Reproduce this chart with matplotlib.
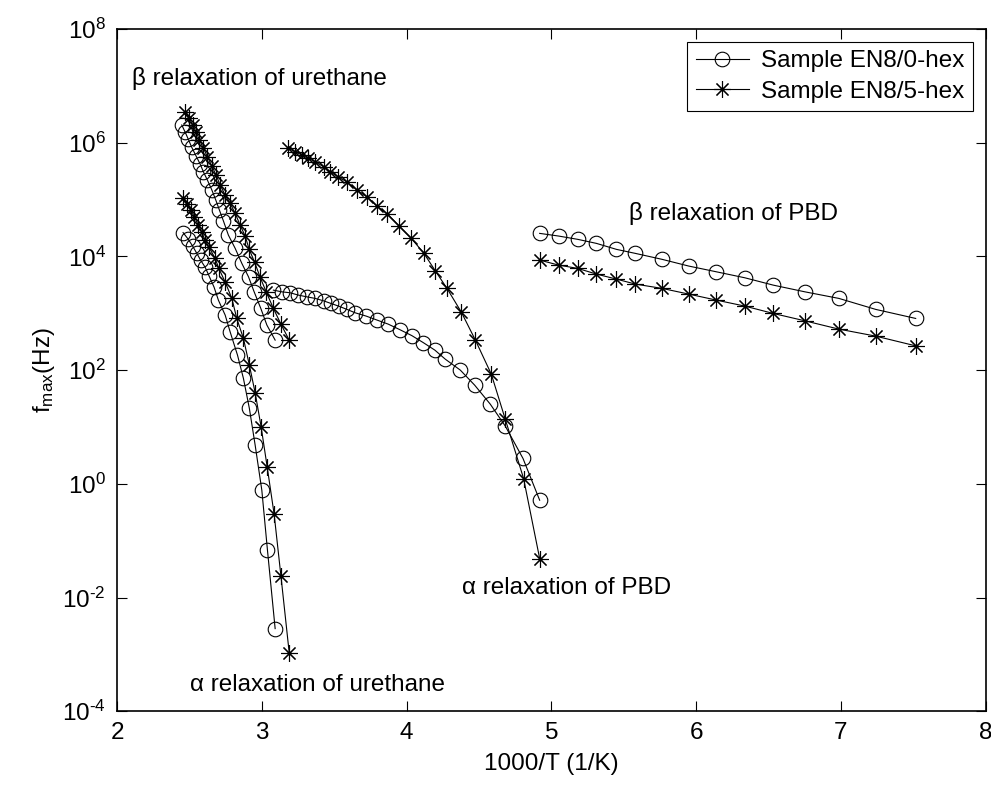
import numpy as np
import matplotlib
matplotlib.use("Agg")
import matplotlib.pyplot as plt

plt.rcParams['font.family'] = ['Liberation Sans', 'DejaVu Sans']
plt.rcParams['mathtext.fontset'] = 'custom'
plt.rcParams['mathtext.rm'] = 'Liberation Sans'
plt.rcParams['mathtext.it'] = 'Liberation Sans:italic'
plt.rcParams['mathtext.default'] = 'regular'

# ---- data: x = 1000/T (1/K), values are log10(f_max / Hz)

# Sample EN8/0-hex (circles)
c_bu_x = [2.447, 2.470, 2.493, 2.516, 2.546, 2.574, 2.597, 2.624, 2.655, 2.682,
          2.707, 2.735, 2.769, 2.816, 2.862, 2.908, 2.947, 2.993, 3.035, 3.092]
c_bu_logf = [6.311, 6.188, 6.056, 5.918, 5.765, 5.625, 5.484, 5.343, 5.167, 4.991,
             4.815, 4.622, 4.375, 4.141, 3.877, 3.641, 3.377, 3.085, 2.792, 2.528]

c_au_x = [2.456, 2.491, 2.522, 2.550, 2.577, 2.608, 2.636, 2.670, 2.700, 2.747,
          2.781, 2.832, 2.873, 2.914, 2.954, 3.000, 3.039, 3.092]
c_au_logf = [4.419, 4.305, 4.182, 4.058, 3.935, 3.812, 3.654, 3.460, 3.231, 2.967,
             2.674, 2.264, 1.854, 1.326, 0.680, -0.112, -1.168, -2.546]

c_ap_x = [3.080, 3.138, 3.196, 3.253, 3.311, 3.369, 3.426, 3.477, 3.530, 3.588,
          3.645, 3.721, 3.797, 3.873, 3.953, 4.036, 4.115, 4.195, 4.267, 4.371,
          4.470, 4.578, 4.682, 4.804, 4.919]
c_ap_logf = [3.407, 3.377, 3.360, 3.319, 3.289, 3.261, 3.219, 3.173, 3.126, 3.068,
             3.008, 2.950, 2.879, 2.809, 2.712, 2.607, 2.484, 2.352, 2.193, 2.000,
             1.736, 1.401, 1.014, 0.446, -0.288]

c_bp_x = [4.919, 5.050, 5.182, 5.311, 5.449, 5.580, 5.765, 5.949, 6.140, 6.336,
          6.532, 6.751, 6.986, 7.240, 7.516]
c_bp_logf = [4.405, 4.358, 4.300, 4.229, 4.124, 4.053, 3.948, 3.830, 3.729, 3.624,
             3.495, 3.377, 3.261, 3.068, 2.909]

# Sample EN8/5-hex (asterisks)
s_bu_x = [2.470, 2.500, 2.523, 2.546, 2.569, 2.597, 2.624, 2.655, 2.684, 2.712,
          2.747, 2.781, 2.816, 2.850, 2.885, 2.912, 2.950, 2.988, 3.030, 3.080,
          3.132, 3.189]
s_bu_logf = [6.545, 6.429, 6.311, 6.193, 6.047, 5.901, 5.753, 5.589, 5.431, 5.255,
             5.079, 4.933, 4.757, 4.551, 4.358, 4.129, 3.900, 3.636, 3.377, 3.085,
             2.809, 2.528]

s_au_x = [2.458, 2.486, 2.512, 2.534, 2.562, 2.585, 2.608, 2.634, 2.677, 2.702,
          2.747, 2.793, 2.827, 2.873, 2.914, 2.954, 2.995, 3.037, 3.085, 3.132,
          3.189]
s_au_logf = [5.021, 4.921, 4.815, 4.692, 4.551, 4.428, 4.287, 4.164, 3.970, 3.794,
             3.548, 3.261, 2.909, 2.557, 2.088, 1.600, 1.005, 0.298, -0.534, -1.620,
             -2.968]

s_ap_x = [3.184, 3.230, 3.277, 3.322, 3.369, 3.426, 3.472, 3.524, 3.588, 3.657,
          3.726, 3.795, 3.868, 3.949, 4.032, 4.117, 4.198, 4.279, 4.378, 4.475,
          4.585, 4.682, 4.808, 4.919]
s_ap_logf = [5.901, 5.841, 5.783, 5.725, 5.665, 5.577, 5.489, 5.405, 5.308, 5.167,
             5.049, 4.885, 4.745, 4.534, 4.317, 4.064, 3.747, 3.437, 3.020, 2.528,
             1.929, 1.132, 0.094, -1.314]

s_bp_x = c_bp_x
s_bp_logf = [3.935, 3.847, 3.789, 3.689, 3.601, 3.513, 3.437, 3.337, 3.231, 3.126,
             2.997, 2.867, 2.721, 2.598, 2.427]

labels = ["Sample EN8/0-hex", "Sample EN8/5-hex"]

notes = [("\u03b2 relaxation of urethane", 2.104, 7.014),
         ("\u03b1 relaxation of urethane", 2.505, -3.637),
         ("\u03b1 relaxation of PBD", 4.384, -1.930),
         ("\u03b2 relaxation of PBD", 5.534, 4.637)]

y_exps = [-4, -2, 0, 2, 4, 6, 8]

FS = 17.5

fig = plt.figure(figsize=(9.91, 7.87), dpi=100)
ax = fig.add_axes([0.1181, 0.0962, 0.8766, 0.8670])

circ = dict(color="black", lw=0.8, marker="o", ms=10.5, mfc="none", mec="black", mew=0.8)
star = dict(color="black", lw=0.8, marker=(8, 2, 0), ms=12, mec="black", mew=0.8)

first = True
for xs, ls in [(c_bu_x, c_bu_logf), (c_au_x, c_au_logf), (c_ap_x, c_ap_logf), (c_bp_x, c_bp_logf)]:
	ax.plot(xs, 10 ** np.array(ls), label=labels[0] if first else None, **circ)
	first = False
first = True
for xs, ls in [(s_bu_x, s_bu_logf), (s_au_x, s_au_logf), (s_ap_x, s_ap_logf), (s_bp_x, s_bp_logf)]:
	ax.plot(xs, 10 ** np.array(ls), label=labels[1] if first else None, **star)
	first = False

ax.set_yscale("log")
ax.set_xlim(2, 8)
ax.set_ylim(1e-4, 1e8)
ax.set_xticks([2, 3, 4, 5, 6, 7, 8])
ax.set_yticks([10.0 ** e for e in y_exps])
# matlab style exponent with a plain hyphen
ax.set_yticklabels([r"$10^{%s}$" % (("\u2010" + str(-e)) if e < 0 else str(e)) for e in y_exps])
ax.yaxis.set_minor_locator(matplotlib.ticker.NullLocator())
ax.tick_params(direction="in", length=7, width=0.8, top=True, right=True, labelsize=FS, pad=8)
for s in ax.spines.values():
	s.set_linewidth(1.2)

ax.set_xlabel("1000/T (1/K)", fontsize=FS, labelpad=6)
ax.set_ylabel(r"f$_{max}$(Hz)", fontsize=FS, labelpad=4)

for txt, x, ly in notes:
	ax.text(x, 10 ** ly, txt, fontsize=FS, ha="left", va="baseline")

leg = ax.legend(loc="upper right", bbox_to_anchor=(0.9854, 0.981), borderaxespad=0,
	fontsize=FS, frameon=True, fancybox=False, edgecolor="black", framealpha=1,
	handlelength=2.2, labelspacing=0.35, borderpad=0.35, handletextpad=0.5)
leg.get_frame().set_linewidth(0.8)

plt.savefig("out.png", dpi=100)
plt.close()
